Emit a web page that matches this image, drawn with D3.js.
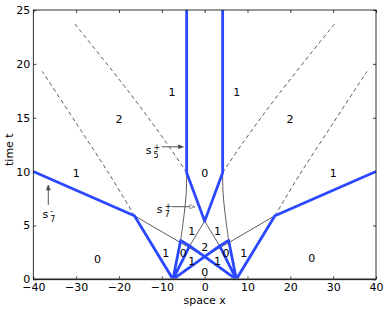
<!DOCTYPE html>
<html>
<head>
<meta charset="utf-8">
<script src="https://cdn.jsdelivr.net/npm/d3@7"></script>
<style>
  body { margin: 0; background: #fff; }
  text { font-family: "DejaVu Sans", "Liberation Sans", Arial, sans-serif; }
</style>
</head>
<body>
<svg id="chart" width="386" height="309"></svg>
<script>
// tick values
const xTicks = [-40, -30, -20, -10, 0, 10, 20, 30, 40];
const yTicks = [0, 5, 10, 15, 20, 25];

// thick blue shock curves (x, t)
const shockLines = [
  [[-40, 10], [-16.4, 5.9], [-7.4, 0]],
  [[40, 10], [16.4, 5.9], [7.4, 0]],
  [[-4.2, 25], [-4.2, 9.9], [0, 5.4], [4.2, 9.9], [4.2, 25]],
  [[-7.4, 0], [-5.6, 3.6], [-3.5, 3.1], [-7.4, 0]],
  [[7.4, 0], [5.6, 3.6], [3.5, 3.1], [7.4, 0]],
  [[-7.4, 0], [3.5, 3.1]],
  [[7.4, 0], [-3.5, 3.1]]
];

// thin black curves
const thinLines = [
  [[-16.4, 5.9], [0, 2.1]],
  [[16.4, 5.9], [0, 2.1]],
  [[-3.5, 3.1], [0, 5.4], [3.5, 3.1]],
  [[-4.2, 9.9], [-4.3, 8], [-4.8, 6], [-5.6, 3.6]],
  [[4.2, 9.9], [4.3, 8], [4.8, 6], [5.6, 3.6]]
];

// dashed curves
const dashedLines = [
  [[-4.2, 9.9], [-8.8, 12.6], [-17.5, 17.3], [-30.5, 23.8]],
  [[4.2, 9.9], [8.8, 12.6], [17.5, 17.3], [30.5, 23.8]],
  [[-16.4, 5.9], [-22, 9.6], [-30, 14.5], [-37.9, 19.3]],
  [[16.4, 5.9], [22, 9.6], [30, 14.5], [37.9, 19.3]]
];

// region numbers
const regionLabels = [
  {x: -7.6, t: 17.4, s: "1"}, {x: 7.5, t: 17.4, s: "1"},
  {x: -20, t: 14.9, s: "2"}, {x: 19.9, t: 14.9, s: "2"},
  {x: -30, t: 9.9, s: "1"}, {x: 0, t: 9.9, s: "0"}, {x: 30, t: 9.9, s: "1"},
  {x: -25, t: 1.9, s: "0"}, {x: 25, t: 2.0, s: "0"},
  {x: -3, t: 4.5, s: "1"}, {x: 3, t: 4.5, s: "1"},
  {x: -9.1, t: 2.4, s: "1"}, {x: -5, t: 2.4, s: "0"},
  {x: 0, t: 3.0, s: "2"},
  {x: 5, t: 2.4, s: "0"}, {x: 9.1, t: 2.4, s: "1"},
  {x: -3, t: 1.65, s: "1"}, {x: 3, t: 1.65, s: "1"},
  {x: 0, t: 0.7, s: "0"}
];

// wave annotations: label position, superscript, subscript, arrow from/to
const waveNotes = [
  {x: -12.4, t: 11.9, sup: "+", sub: "5", from: [-10, 12.3], to: [-5, 12.3], head: "fill"},
  {x: -9.8, t: 6.4, sup: "+", sub: "7", from: [-7.7, 6.74], to: [-2.3, 6.74], head: "open"},
  {x: -36.5, t: 6.0, sup: "-", sub: "7", from: [-36.5, 6.9], to: [-36.5, 8.75], head: "fill"}
];

const svg = d3.select("#chart");
const mL = 33.3, mR = 376, mT = 10, mB = 279.3;

const x = d3.scaleLinear().domain([-40, 40]).range([mL, mR]);
const y = d3.scaleLinear().domain([0, 25]).range([mB, mT]);

const line = d3.line().x(d => x(d[0])).y(d => y(d[1]));
const curve = d3.line().x(d => x(d[0])).y(d => y(d[1])).curve(d3.curveCatmullRom);

svg.append("defs").selectAll("marker")
  .data(["fill", "open"])
  .enter().append("marker")
    .attr("id", d => "arr-" + d)
    .attr("viewBox", "0 0 10 10")
    .attr("refX", 10).attr("refY", 5)
    .attr("markerWidth", 6).attr("markerHeight", 5)
    .attr("markerUnits", "userSpaceOnUse")
    .attr("orient", "auto")
  .append("path")
    .attr("d", "M0,1 L10,5 L0,9 Z")
    .attr("fill", d => d == "fill" ? "#444" : "#fff")
    .attr("stroke", "#555").attr("stroke-width", 1.2);

// axes (ticks inside, box around)
const g = svg.append("g");

g.append("g")
  .attr("transform", `translate(0,${mB})`)
  .call(d3.axisBottom(x).tickValues(xTicks).tickSizeInner(-3).tickSizeOuter(0).tickPadding(4).tickFormat(d3.format("d")))
  .call(a => a.select(".domain").remove());
g.append("g")
  .attr("transform", `translate(0,${mT})`)
  .call(d3.axisTop(x).tickValues(xTicks).tickSizeInner(-3).tickSizeOuter(0).tickFormat(""))
  .call(a => a.select(".domain").remove());
g.append("g")
  .attr("transform", `translate(${mL},0)`)
  .call(d3.axisLeft(y).tickValues(yTicks).tickSizeInner(-3).tickSizeOuter(0).tickPadding(3))
  .call(a => a.select(".domain").remove());
g.append("g")
  .attr("transform", `translate(${mR},0)`)
  .call(d3.axisRight(y).tickValues(yTicks).tickSizeInner(-3).tickSizeOuter(0).tickFormat(""))
  .call(a => a.select(".domain").remove());

g.selectAll(".tick text").style("font-size", "11px").attr("fill", "#000");
g.selectAll(".tick line").attr("stroke", "#444");

// dashed
svg.append("g").selectAll("path")
  .data(dashedLines)
  .enter().append("path")
    .attr("d", curve)
    .attr("fill", "none")
    .attr("stroke", "#333")
    .attr("stroke-width", 0.8)
    .attr("stroke-dasharray", "4,3");

// thin
svg.append("g").selectAll("path")
  .data(thinLines)
  .enter().append("path")
    .attr("d", d => d.length > 3 ? curve(d) : line(d))
    .attr("fill", "none")
    .attr("stroke", "#333")
    .attr("stroke-width", 0.8);

// blue shocks
svg.append("g").selectAll("path")
  .data(shockLines)
  .enter().append("path")
    .attr("d", line)
    .attr("fill", "none")
    .attr("stroke", "#2a48ff")
    .attr("stroke-width", 2.8)
    .attr("stroke-linejoin", "round");

// t = 0 line
svg.append("line")
  .attr("x1", x(-40)).attr("x2", x(40))
  .attr("y1", y(0)).attr("y2", y(0))
  .attr("stroke", "#808080").attr("stroke-width", 2);

// box
svg.append("rect")
  .attr("x", mL).attr("y", mT)
  .attr("width", mR - mL).attr("height", mB - mT)
  .attr("fill", "none").attr("stroke", "#000").attr("stroke-width", 0.8);

// region labels
svg.append("g").selectAll("text")
  .data(regionLabels)
  .enter().append("text")
    .attr("x", d => x(d.x))
    .attr("y", d => y(d.t))
    .attr("dy", "0.35em")
    .attr("text-anchor", "middle")
    .style("font-size", "11px")
    .text(d => d.s);

// annotations
const notes = svg.append("g").selectAll("g")
  .data(waveNotes)
  .enter().append("g");

notes.append("path")
  .attr("d", d => line([d.from, d.to]))
  .attr("stroke", "#555")
  .attr("stroke-width", 1)
  .attr("marker-end", d => `url(#arr-${d.head})`);

notes.append("text")
  .attr("x", d => x(d.x) - 3)
  .attr("y", d => y(d.t) + 3)
  .attr("text-anchor", "middle")
  .style("font-size", "11px")
  .text("s");
notes.append("text")
  .attr("x", d => x(d.x) + 2)
  .attr("y", d => y(d.t) - 1)
  .style("font-size", "8px")
  .text(d => d.sup);
notes.append("text")
  .attr("x", d => x(d.x) + 2)
  .attr("y", d => y(d.t) + 7)
  .style("font-size", "8px")
  .text(d => d.sub);

// axis titles
svg.append("text")
  .attr("x", (mL + mR) / 2)
  .attr("y", 304)
  .attr("text-anchor", "middle")
  .style("font-size", "11px")
  .text("space x");

svg.append("text")
  .attr("transform", `translate(13,${(mT + mB) / 2 + 5}) rotate(-90)`)
  .attr("text-anchor", "middle")
  .style("font-size", "11px")
  .text("time t");
</script>
</body>
</html>
